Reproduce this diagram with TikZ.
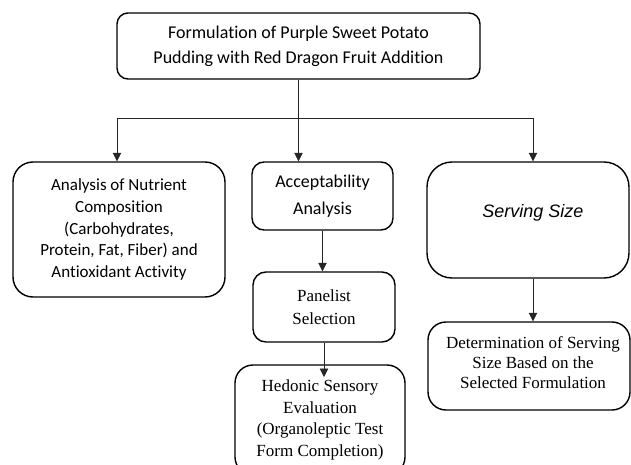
\documentclass[tikz,border=0pt]{standalone}
\usepackage{fontspec}
\setmainfont{Liberation Serif}
\newfontfamily\calib[Ligatures={NoCommon,NoRare,NoContextual}]{Carlito}
\newfontfamily\arialf{Liberation Sans}
\usetikzlibrary{arrows.meta}
\begin{document}
\begin{tikzpicture}[x=1pt,y=-1pt,
  box/.style={draw=black,line width=1.4pt,inner sep=0pt,align=center},
  conn/.style={draw=black!85,line width=0.7pt},
  arr/.style={conn,-{Triangle[length=8.5pt,width=8.5pt]}},
]
\useasboundingbox (0,0) rectangle (631,465);
\begin{scope}
\clip (0,0) rectangle (631,465);
% boxes
\node[box,rounded corners=11pt,minimum width=363pt,minimum height=66pt,
      font={\calib\fontsize{18}{25}\selectfont}] (top) at (298.5,46)
  {Formulation of Purple Sweet Potato\\Pudding with Red Dragon Fruit Addition};
\node[box,rounded corners=20pt,minimum width=212pt,minimum height=135pt,
      font={\calib\fontsize{17}{21.6}\selectfont}] (left) at (119,229.5)
  {Analysis of Nutrient\\Composition\\(Carbohydrates,\\Protein, Fat, Fiber) and\\Antioxidant Activity};
\node[box,rounded corners=12pt,minimum width=141pt,minimum height=68pt,
      font={\calib\fontsize{18}{27}\selectfont}] (acc) at (322.5,196)
  {Acceptability\\Analysis};
\node[box,rounded corners=13pt,minimum width=142pt,minimum height=70pt,
      font={\fontsize{17}{23}\selectfont}] (pan) at (324,307)
  {Panelist\\Selection};
\node[box,rounded corners=18pt,minimum width=170pt,minimum height=110pt,
      font={\fontsize{17}{21.4}\selectfont}] (hed) at (320,420)
  {Hedonic Sensory\\Evaluation\\(Organoleptic Test\\Form Completion)};
\node[box,rounded corners=25pt,minimum width=202pt,minimum height=116pt] (serv) at (528,220) {};
\node[font={\arialf\itshape\fontsize{18}{22}\selectfont},inner sep=0pt] (servtxt) at (533,213) {Serving Size};
\node[box,rounded corners=18pt,minimum width=202pt,minimum height=88pt] (det) at (529,366) {};
\node[font={\fontsize{17}{20}\selectfont},align=center,inner sep=0pt] (dettxt) at (533,363)
  {Determination of Serving\\Size Based on the\\Selected Formulation};
% connectors
\coordinate (bl) at (117,118);
\coordinate (br) at (533,118);
\coordinate (hedtip) at (324,377);
\draw[arr] (top.south) -- (top.south |- acc.north);
\draw[conn] (bl) -- (br);
\draw[arr] (bl) -- (bl |- left.north);
\draw[arr] (br) -- (br |- serv.north);
\draw[arr] (acc.south) -- (acc.south |- pan.north);
\draw[arr] (pan.south) -- (hedtip);
\draw[arr] (serv.south -| br) -- (br |- det.north);
\end{scope}
\end{tikzpicture}
\end{document}
